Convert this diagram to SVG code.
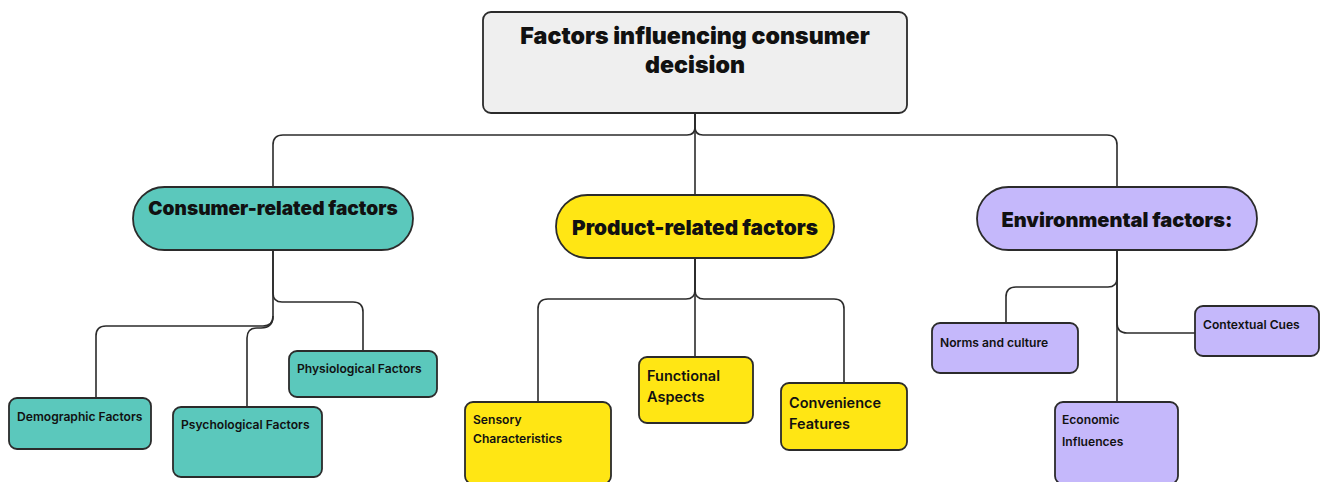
<svg xmlns="http://www.w3.org/2000/svg" width="1327" height="482" viewBox="0 0 1327 482">
<style>
.n{stroke:#2b2b2b;stroke-width:1.8}
.c{fill:none;stroke:#2b2b2b;stroke-width:1.6}
.t{font-family:Inter,"Liberation Sans",sans-serif;fill:#111}
.h{font-weight:900}
.s{font-weight:600;font-size:12.1px}
.m{font-weight:600;font-size:14.5px}
.teal{fill:#5bc8bc}.yel{fill:#ffe614}.pur{fill:#c5b8fb}
</style>
<rect width="1327" height="482" fill="#fff"/>
<g id="connectors">
<path class="c" d="M695,113 V127 Q695,135 687,135 H283 Q273,135 273,145 V187"/>
<path class="c" d="M695,113 V127 Q695,135 703,135 H1107 Q1117,135 1117,145 V187"/>
<path class="c" d="M695,113 V195"/>
<path class="c" d="M273,250 V293 Q273,302 282,302 H353 Q363,302 363,312 V351"/>
<path class="c" d="M273,250 V316 Q273,326 263,326 H106 Q96,326 96,336 V398"/>
<path class="c" d="M273,316 Q273,328 261,328 H257 Q247,328 247,338 V407"/>
<path class="c" d="M695,258 V290 Q695,299 686,299 H548 Q538,299 538,309 V402"/>
<path class="c" d="M695,258 V290 Q695,299 704,299 H834 Q844,299 844,309 V383"/>
<path class="c" d="M695,258 V357"/>
<path class="c" d="M1117,250 V402"/>
<path class="c" d="M1117,250 V278 Q1117,287 1108,287 H1016 Q1006,287 1006,297 V323"/>
<path class="c" d="M1117,250 V323 Q1117,333 1127,333 H1195"/>
</g>
<g id="root">
<rect class="n" x="483" y="12" width="424" height="101" rx="8" fill="#efefef"/>
<text class="t h" font-size="23.2" text-anchor="middle"><tspan x="695" y="44">Factors influencing consumer</tspan><tspan x="695" y="73">decision</tspan></text>
</g>
<g id="consumer">
<rect class="n teal" x="133" y="187" width="280" height="63" rx="31.5"/>
<text class="t h" font-size="19.1" x="273" y="215" text-anchor="middle">Consumer-related factors</text>
</g>
<g id="product">
<rect class="n yel" x="556" y="195" width="278" height="63" rx="31.5"/>
<text class="t h" font-size="20.8" x="695" y="235" text-anchor="middle">Product-related factors</text>
</g>
<g id="environmental">
<rect class="n pur" x="977" y="187" width="280" height="63" rx="31.5"/>
<text class="t h" font-size="20" x="1117" y="227" text-anchor="middle">Environmental factors:</text>
</g>
<g id="demographic">
<rect class="n teal" x="9" y="398" width="142" height="51" rx="8"/>
<text class="t s" x="17" y="421">Demographic Factors</text>
</g>
<g id="psychological">
<rect class="n teal" x="173" y="407" width="149" height="70" rx="8"/>
<text class="t s" x="181" y="429">Psychological Factors</text>
</g>
<g id="physiological">
<rect class="n teal" x="289" y="351" width="148" height="46" rx="8"/>
<text class="t s" x="297" y="373">Physiological Factors</text>
</g>
<g id="sensory">
<rect class="n yel" x="465" y="402" width="146" height="82" rx="8"/>
<text class="t s" font-size="12.8"><tspan x="473" y="424">Sensory</tspan><tspan x="473" y="443">Characteristics</tspan></text>
</g>
<g id="functional">
<rect class="n yel" x="639" y="357" width="114" height="66" rx="8"/>
<text class="t m"><tspan x="647" y="381">Functional</tspan><tspan x="647" y="402">Aspects</tspan></text>
</g>
<g id="convenience">
<rect class="n yel" x="781" y="383" width="126" height="67" rx="8"/>
<text class="t m"><tspan x="789" y="408">Convenience</tspan><tspan x="789" y="429">Features</tspan></text>
</g>
<g id="norms">
<rect class="n pur" x="932" y="323" width="146" height="50" rx="8"/>
<text class="t s" x="940" y="347">Norms and culture</text>
</g>
<g id="contextual">
<rect class="n pur" x="1195" y="306" width="124" height="50" rx="8"/>
<text class="t s" x="1203" y="329">Contextual Cues</text>
</g>
<g id="economic">
<rect class="n pur" x="1055" y="402" width="123" height="82" rx="8"/>
<text class="t s"><tspan x="1062" y="424">Economic</tspan><tspan x="1062" y="446">Influences</tspan></text>
</g>
</svg>
